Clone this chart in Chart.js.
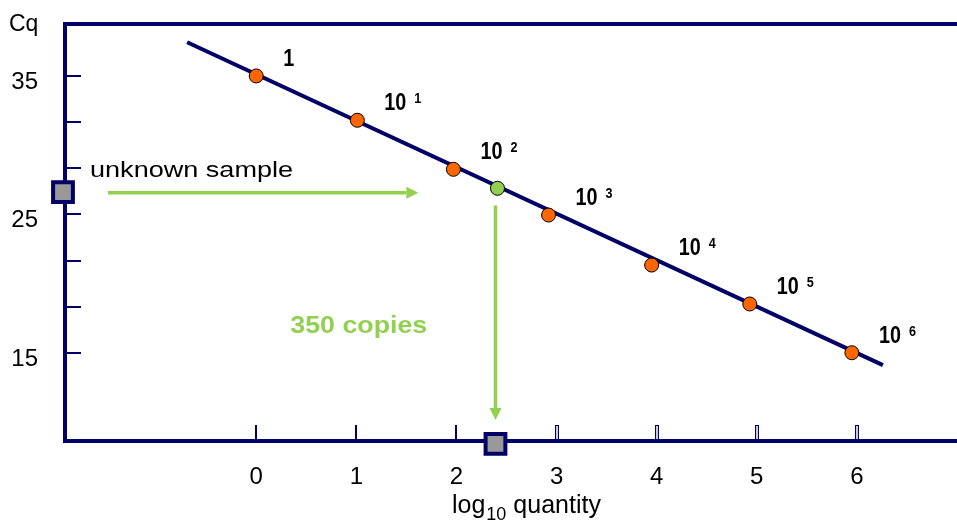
<!DOCTYPE html>
<html>
<head>
<meta charset="utf-8">
<script src="https://cdn.jsdelivr.net/npm/chart.js@4"></script>
<style>
  html, body { margin: 0; padding: 0; background: #fff; }
</style>
</head>
<body>
<canvas id="c" width="957" height="526"></canvas>
<script>
// standard curve: log10 quantity vs Cq
const stdLog = [0, 1.01, 1.97, 2.92, 3.95, 4.93, 5.95];
const stdCq = [35.0, 31.8, 28.26, 24.96, 21.35, 18.54, 15.02];
const stdBase = ['1', '10', '10', '10', '10', '10', '10'];
const stdExp = ['', '1', '2', '3', '4', '5', '6'];

// fitted line end points
const fitLog = [-0.69, 6.26];
const fitCq = [37.43, 14.13];

// unknown sample
const unknownLog = 2.41;
const unknownCq = 26.89;
const sampleMark = { x: -1.93, y: 26.62 };   // square on the Cq axis
const resultMark = { x: 2.39, y: 8.44 };     // square on the quantity axis
const arrowH = { y: 26.57, x0: -1.48, x1: 1.62 };
const arrowV = { x: 2.39, y0: 25.64, y1: 10.16 };

// axes
const xTicks = [0, 1, 2, 3, 4, 5, 6];
const yTicks = [35, 31.67, 28.33, 25, 21.67, 18.33, 15];
const yLabels = [35, 25, 15];

const navy = '#000066';
const green = '#92d050';
const orange = '#ff6600';
const sans = "'Liberation Sans', Arial, sans-serif";
const narrow = "'Liberation Sans Narrow', 'Arial Narrow', 'Liberation Sans', sans-serif";

function stretchText(ctx, txt, px, py, w) {
  const m = ctx.measureText(txt).width;
  ctx.save();
  ctx.translate(px, py);
  ctx.scale(w / m, 1);
  ctx.fillText(txt, 0, 0);
  ctx.restore();
}

function arrow(ctx, x0, y0, x1, y1) {
  const ang = Math.atan2(y1 - y0, x1 - x0);
  const len = 12, half = 6;
  const bx = x1 - len * Math.cos(ang), by = y1 - len * Math.sin(ang);
  ctx.beginPath();
  ctx.moveTo(x0, y0);
  ctx.lineTo(bx, by);
  ctx.stroke();
  ctx.beginPath();
  ctx.moveTo(x1, y1);
  ctx.lineTo(bx + half * Math.sin(ang), by - half * Math.cos(ang));
  ctx.lineTo(bx - half * Math.sin(ang), by + half * Math.cos(ang));
  ctx.closePath();
  ctx.fill();
}

function noPadding(s) {
  s.paddingTop = 0;
  s.paddingBottom = 0;
  s.paddingLeft = 0;
  s.paddingRight = 0;
}

const overlay = {
  id: 'overlay',
  beforeDatasetsDraw(chart) {
    const { ctx, chartArea: a, scales: { x, y } } = chart;
    ctx.save();
    ctx.strokeStyle = navy;
    ctx.lineWidth = 4;
    ctx.beginPath();
    ctx.moveTo(a.left - 2, a.top);
    ctx.lineTo(a.right, a.top);
    ctx.stroke();

    // inward tick marks
    ctx.lineWidth = 2;
    ctx.beginPath();
    y.ticks.forEach(t => {
      const py = Math.round(y.getPixelForValue(t.value));
      ctx.moveTo(a.left, py);
      ctx.lineTo(a.left + 16, py);
    });
    x.ticks.forEach(t => {
      if (t.value > resultMark.x) return;
      const px = Math.round(x.getPixelForValue(t.value));
      ctx.moveTo(px, a.bottom);
      ctx.lineTo(px, a.bottom - 16);
    });
    ctx.stroke();
    ctx.lineWidth = 1;
    ctx.fillStyle = '#c8c8e0';
    x.ticks.forEach(t => {
      if (t.value <= resultMark.x) return;
      const px = Math.round(x.getPixelForValue(t.value));
      ctx.fillRect(px - 1, a.bottom - 15, 3, 14);
      ctx.strokeRect(px - 1.5, a.bottom - 15.5, 3, 14);
    });
    ctx.restore();
  },
  afterDatasetsDraw(chart) {
    const { ctx, chartArea: a, scales: { x, y } } = chart;
    ctx.save();

    // dilution labels
    const pts = chart.getDatasetMeta(1).data;
    ctx.fillStyle = '#000';
    ctx.textBaseline = 'alphabetic';
    pts.forEach((p, i) => {
      const lx = p.x + 27, ly = p.y - 10;
      ctx.font = 'bold 24px ' + narrow;
      stretchText(ctx, stdBase[i], lx, ly, stdBase[i].length * 11);
      if (stdExp[i]) {
        ctx.font = 'bold 15px ' + narrow;
        stretchText(ctx, stdExp[i], lx + 30, ly - 7, 7);
      }
    });

    // arrows
    ctx.strokeStyle = green;
    ctx.fillStyle = green;
    ctx.lineWidth = 3.5;
    arrow(ctx, x.getPixelForValue(arrowH.x0), y.getPixelForValue(arrowH.y),
      x.getPixelForValue(arrowH.x1), y.getPixelForValue(arrowH.y));
    arrow(ctx, x.getPixelForValue(arrowV.x), y.getPixelForValue(arrowV.y0),
      x.getPixelForValue(arrowV.x), y.getPixelForValue(arrowV.y1));

    // annotation text
    ctx.fillStyle = green;
    ctx.font = 'bold 24px ' + sans;
    stretchText(ctx, '350 copies', x.getPixelForValue(0.34), y.getPixelForValue(16.44), 137);

    ctx.fillStyle = '#000';
    ctx.font = '22px ' + sans;
    stretchText(ctx, 'unknown sample', x.getPixelForValue(-1.66), y.getPixelForValue(27.71), 203);

    ctx.font = '23px ' + sans;
    ctx.fillText('Cq', a.left - 56, a.top + 7);

    // x axis title with subscript
    let tx = 452;
    const ty = 513;
    ctx.font = '25px ' + sans;
    ctx.fillText('log', tx, ty);
    tx += ctx.measureText('log').width + 1;
    ctx.font = '18px ' + sans;
    ctx.fillText('10', tx, ty + 7);
    tx += ctx.measureText('10').width;
    ctx.font = '25px ' + sans;
    ctx.fillText(' quantity', tx, ty);

    ctx.restore();
  }
};

new Chart(document.getElementById('c'), {
  type: 'scatter',
  data: {
    datasets: [
      {
        data: [sampleMark, resultMark],
        pointStyle: 'rect',
        pointRadius: 14,
        backgroundColor: '#999999',
        borderColor: navy,
        borderWidth: 4,
        clip: false,
        order: 0
      },
      {
        data: stdLog.map((v, i) => ({ x: v, y: stdCq[i] })),
        pointRadius: 7,
        backgroundColor: orange,
        borderColor: '#000',
        borderWidth: 1,
        order: 2
      },
      {
        data: [{ x: unknownLog, y: unknownCq }],
        pointRadius: 7,
        backgroundColor: green,
        borderColor: '#000',
        borderWidth: 1,
        order: 1
      },
      {
        data: fitLog.map((v, i) => ({ x: v, y: fitCq[i] })),
        showLine: true,
        borderColor: navy,
        borderWidth: 4,
        pointRadius: 0,
        order: 3
      }
    ]
  },
  options: {
    responsive: false,
    animation: false,
    layout: { autoPadding: false, padding: { top: 24, right: 0, left: 0, bottom: 0 } },
    plugins: { legend: { display: false }, tooltip: { enabled: false } },
    scales: {
      x: {
        type: 'linear',
        min: -1.91,
        max: 7.0,
        afterBuildTicks: s => { s.ticks = xTicks.map(v => ({ value: v })); },
        afterFit: s => { s.height = 85; noPadding(s); },
        grid: { display: false, drawTicks: false },
        border: { display: true, color: navy, width: 4 },
        ticks: { color: '#000', padding: 22, font: { family: sans, size: 24 } }
      },
      y: {
        type: 'linear',
        min: 8.65,
        max: 38.75,
        afterBuildTicks: s => { s.ticks = yTicks.map(v => ({ value: v })); },
        afterFit: s => { s.width = 65; noPadding(s); },
        grid: { display: false, drawTicks: false },
        border: { display: true, color: navy, width: 4 },
        ticks: {
          color: '#000',
          padding: 27,
          labelOffset: 6,
          font: { family: sans, size: 24 },
          callback: v => (yLabels.includes(v) ? String(v) : '')
        }
      }
    }
  },
  plugins: [overlay]
});
</script>
</body>
</html>
